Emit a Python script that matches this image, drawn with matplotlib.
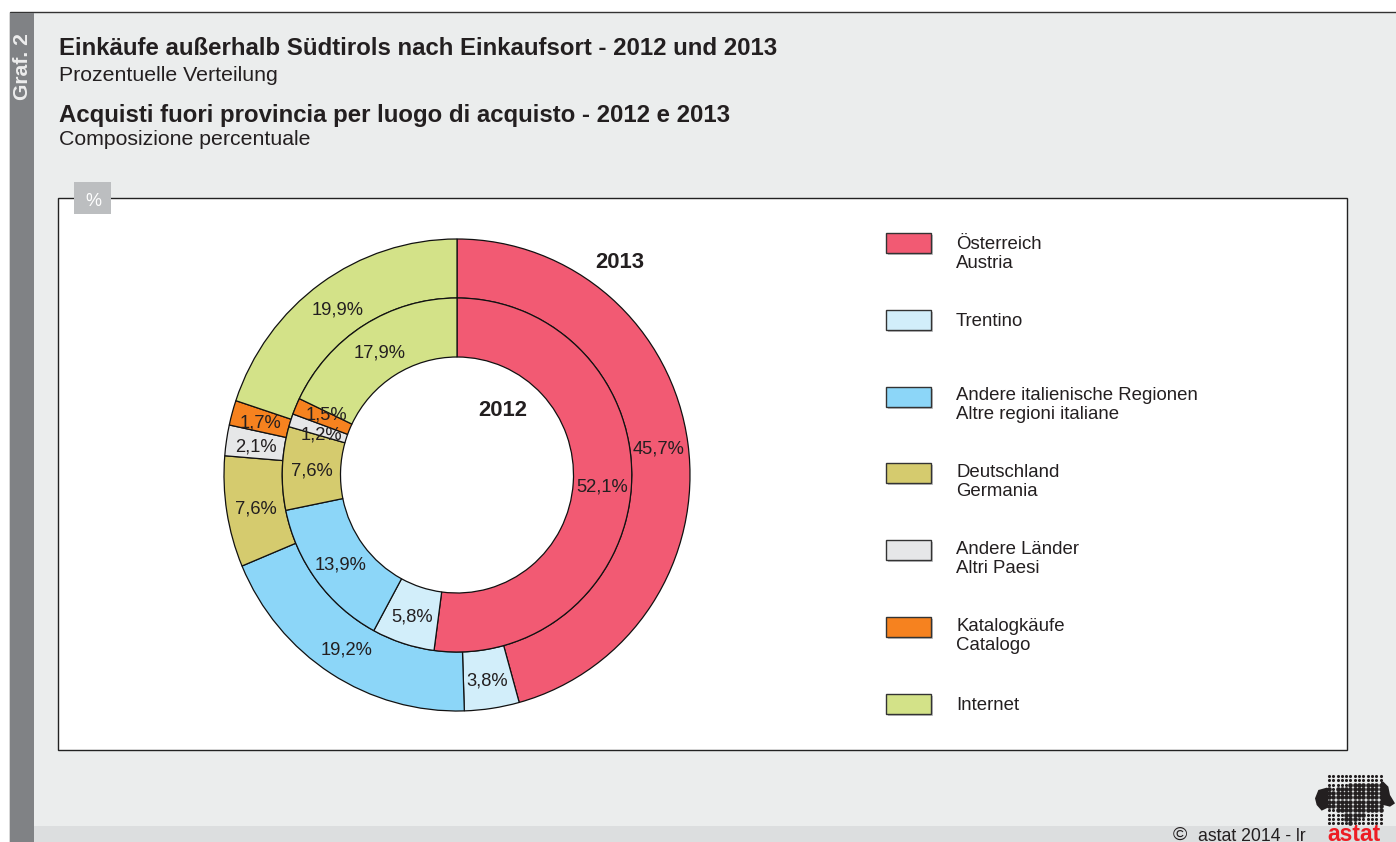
import numpy as np
import matplotlib
matplotlib.use("Agg")
import matplotlib.pyplot as plt
from matplotlib.patches import Rectangle, Polygon
from matplotlib.path import Path

plt.rcParams['font.family'] = ['Liberation Sans', 'DejaVu Sans']

values_2013 = [45.7, 3.8, 19.2, 7.6, 2.1, 1.7, 19.9]
values_2012 = [52.1, 5.8, 13.9, 7.6, 1.2, 1.5, 17.9]
colors = ['#F25A73', '#D2EEFA', '#8CD6F8', '#D5CB6E', '#E6E7E8', '#F6821F', '#D3E288']
legend_de = ['Österreich', 'Trentino', 'Andere italienische Regionen', 'Deutschland',
             'Andere Länder', 'Katalogkäufe', 'Internet']
legend_it = ['Austria', '', 'Altre regioni italiane', 'Germania', 'Altri Paesi', 'Catalogo', '']

# layout, in pixels of the picture
swatch_y = [243, 320, 397, 473, 550, 627, 704]
text_y = [249, 326, 400, 477, 554, 631, 710]


def fmt(vals):
    return [f"{v:.1f}%".replace('.', ',') for v in vals]


W, H = 1396, 842
fig = plt.figure(figsize=(W / 100, H / 100), dpi=100, facecolor='white')
bg = fig.add_axes([0, 0, 1, 1])
bg.set_xlim(0, W)
bg.set_ylim(H, 0)
bg.axis('off')

# page panels
bg.add_patch(Rectangle((9.5, 12), W, H, fc='#EBEDED', ec='#333333', lw=1))
bg.add_patch(Rectangle((10, 13), 24, H, fc='#808285', ec='none'))
bg.add_patch(Rectangle((34, 826), W, 20, fc='#DCDEDF', ec='none'))
bg.add_patch(Rectangle((58, 198), 1289, 552, fc='white', ec='#222222', lw=1))
bg.add_patch(Rectangle((74, 182), 37, 32, fc='#BCBEC0', ec='none'))

bg.text(22, 67, 'Graf. 2', color='#EDEDED', fontsize=15.2, fontweight='bold', rotation=90, ha='center', va='center')
bg.text(93, 201, '%', color='white', fontsize=13, ha='center', va='center')
bg.text(59, 55, 'Einkäufe außerhalb Südtirols nach Einkaufsort - 2012 und 2013', fontsize=17.28,
        fontweight='bold', color='#231F20', va='baseline')
bg.text(59, 81, 'Prozentuelle Verteilung', fontsize=15.35, color='#231F20', va='baseline')
bg.text(59, 122, 'Acquisti fuori provincia per luogo di acquisto - 2012 e 2013', fontsize=17.28,
        fontweight='bold', color='#231F20', va='baseline')
bg.text(59, 145, 'Composizione percentuale', fontsize=15.35, color='#231F20', va='baseline')

# legend
for c, de, it, sy, ty in zip(colors, legend_de, legend_it, swatch_y, text_y):
    bg.add_patch(Rectangle((888, sy - 8), 45, 20, fc='#A7A9AC', ec='none', alpha=0.7))
    bg.add_patch(Rectangle((886, sy - 10), 45, 20, fc=c, ec='#333333', lw=1))
    bg.text(956, ty, de, fontsize=13.4, color='#231F20', va='baseline')
    if it:
        bg.text(956, ty + 19, it, fontsize=13.4, color='#231F20', va='baseline')

# footer and logo
bg.text(1180, 840, '©', fontsize=14, color='#231F20', ha='center', va='baseline')
bg.text(1198, 841, 'astat 2014 - lr', fontsize=12.7, color='#231F20', va='baseline')
bg.text(1354, 841, 'astat', fontsize=16.5, fontweight='bold', color='#ED1C24', ha='center', va='baseline')

blob = [(645, 175), (655, 150), (680, 143), (700, 150), (725, 135), (790, 130), (850, 125), (865, 140),
        (870, 165), (885, 190), (870, 200), (850, 195), (840, 215), (790, 225), (770, 240), (750, 260),
        (740, 240), (720, 215), (690, 200), (665, 212), (650, 195)]
blob = np.array(blob) / 3 + [1100, 740]
gx, gy = np.meshgrid(np.arange(1329, 1381, 4.3), np.arange(776, 827, 4.3))
pts = np.column_stack([gx.ravel(), gy.ravel()])
inside = Path(blob).contains_points(pts)
bg.scatter(pts[~inside, 0], pts[~inside, 1], s=5, c='#231F20', lw=0)
bg.scatter(pts[inside, 0], pts[inside, 1], s=11, c='#231F20', lw=0)
for x0, x1 in [(1300, 1328), (1381, 1396)]:
    end = Polygon(blob, closed=True, fc='#231F20', ec='none')
    bg.add_patch(end)
    end.set_clip_path(Rectangle((x0, 760), x1 - x0, 70, transform=bg.transData))

# rings, the original is a little narrower than it is tall
cx, cy, rx, ry = 457, 475, 233, 236
ax = fig.add_axes([(cx - rx) / W, 1 - (cy + ry) / H, 2 * rx / W, 2 * ry / H])
edge = dict(edgecolor='#111111', linewidth=0.9)
textp = dict(fontsize=13.2, color='#231F20', ha='center', va='center_baseline')
ax.pie(values_2013, colors=colors, radius=1, startangle=90, counterclock=False, labels=fmt(values_2013),
       labeldistance=206 / 236, wedgeprops=dict(width=59 / 236, **edge), textprops=textp)
_, inner_texts = ax.pie(values_2012, colors=colors, radius=177 / 236, startangle=90, counterclock=False,
                        labels=fmt(values_2012), labeldistance=147 / 177,
                        wedgeprops=dict(width=59 / 236, **edge), textprops=textp)
ax.set_aspect('auto')
ax.set_xlim(-1, 1)
ax.set_ylim(-1, 1)
ax.axis('off')

# the two thin wedges of 2012 would collide, push their labels apart
for t, (dx, dy) in ((inner_texts[4], (0.01, -0.015)), (inner_texts[5], (0.015, 0.02))):
    x, y = t.get_position()
    t.set_position((x + dx, y + dy))

ax.text(163 / 233, 213 / 236, '2013', fontsize=15.8, fontweight='bold', color='#231F20', ha='center', va='center')
ax.text(46 / 233, 64 / 236, '2012', fontsize=15.8, fontweight='bold', color='#231F20', ha='center', va='center')

fig.savefig('out.png', dpi=100, facecolor='white')
